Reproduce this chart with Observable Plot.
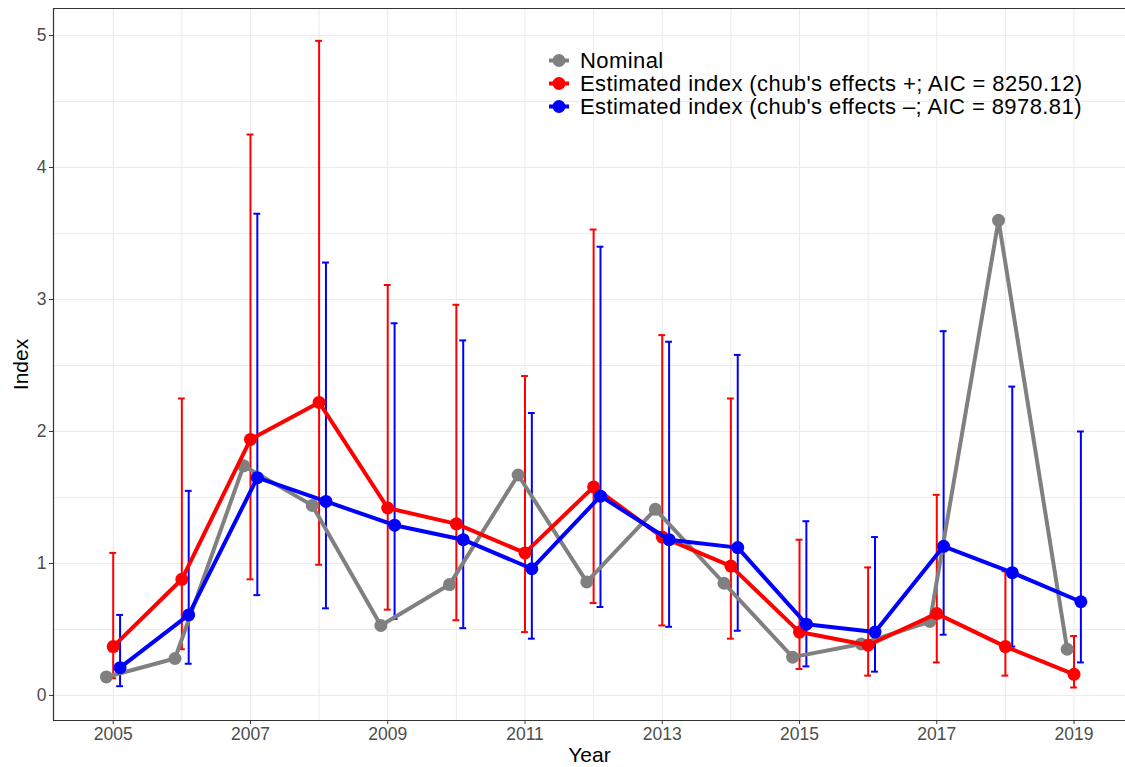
<!DOCTYPE html>
<html>
<head>
<meta charset="utf-8">
<script src="https://cdn.jsdelivr.net/npm/d3@7"></script>
<script src="https://cdn.jsdelivr.net/npm/@observablehq/plot@0.6"></script>
<style>
  html, body { margin: 0; padding: 0; background: white; }
  #wrap { position: relative; width: 1125px; height: 767px; font-family: "Liberation Sans", Arial, sans-serif; }
  #legend { position: absolute; left: 548px; top: 49px; font-size: 22px; letter-spacing: 0.42px; color: #000; }
  .row { display: flex; align-items: center; height: 23px; white-space: nowrap; }
  .row svg { margin-right: 10px; }
</style>
</head>
<body>
<div id="wrap"><div id="legend"></div></div>
<script>
const years = [2005, 2006, 2007, 2008, 2009, 2010, 2011, 2012, 2013, 2014, 2015, 2016, 2017, 2018, 2019];
const nominal    = [0.14, 0.28, 1.74, 1.44, 0.53, 0.84, 1.67, 0.86, 1.41, 0.85, 0.29, 0.39, 0.56, 3.60, 0.35];
const estPlus    = [0.37, 0.88, 1.94, 2.22, 1.42, 1.30, 1.08, 1.58, 1.20, 0.98, 0.48, 0.38, 0.62, 0.37, 0.16];
const estPlusLo  = [0.13, 0.35, 0.88, 0.99, 0.65, 0.57, 0.48, 0.70, 0.53, 0.43, 0.20, 0.15, 0.25, 0.15, 0.06];
const estPlusHi  = [1.08, 2.25, 4.25, 4.96, 3.11, 2.96, 2.42, 3.53, 2.73, 2.25, 1.18, 0.97, 1.52, 0.94, 0.45];
const estMinus   = [0.21, 0.61, 1.65, 1.47, 1.29, 1.18, 0.96, 1.51, 1.18, 1.12, 0.54, 0.48, 1.13, 0.93, 0.71];
const estMinusLo = [0.07, 0.24, 0.76, 0.66, 0.58, 0.51, 0.43, 0.67, 0.52, 0.49, 0.22, 0.18, 0.46, 0.37, 0.25];
const estMinusHi = [0.61, 1.55, 3.65, 3.28, 2.82, 2.69, 2.14, 3.40, 2.68, 2.58, 1.32, 1.20, 2.76, 2.34, 2.00];
const xTicks = [2005, 2007, 2009, 2011, 2013, 2015, 2017, 2019];
const yTicks = [0, 1, 2, 3, 4, 5];
const seriesNames = ["Nominal", "Estimated index (chub's effects +; AIC = 8250.12)", "Estimated index (chub's effects \u2013; AIC = 8978.81)"];
const seriesColors = ["#808080", "#FF0000", "#0000FF"];
const xTitle = "Year";
const yTitle = "Index";

const xDomain = [2004.13, 2019.75];
const yDomain = [-0.19, 5.205];
const dodge = [-0.1, 0, 0.1];
const capHalf = 0.05;

const series = [
  {name: seriesNames[0], color: seriesColors[0], off: dodge[0], v: nominal},
  {name: seriesNames[1], color: seriesColors[1], off: dodge[1], v: estPlus, lo: estPlusLo, hi: estPlusHi},
  {name: seriesNames[2], color: seriesColors[2], off: dodge[2], v: estMinus, lo: estMinusLo, hi: estMinusHi}
];
series.forEach(s => {
  s.data = years.map((yr, i) => ({
    x: yr + s.off, x1: yr + s.off - capHalf, x2: yr + s.off + capHalf,
    y: s.v[i], lo: s.lo ? s.lo[i] : null, hi: s.hi ? s.hi[i] : null
  }));
});

const gridX = d3.range(2005, 2020);
const gridY = d3.range(0, 5.01, 0.5);

const marks = [
  Plot.ruleX(gridX, {stroke: "#ebebeb", strokeWidth: 1}),
  Plot.ruleY(gridY, {stroke: "#ebebeb", strokeWidth: 1}),
];
series.filter(s => s.lo).forEach(s => {
  marks.push(Plot.ruleX(s.data, {x: "x", y1: "lo", y2: "hi", stroke: s.color, strokeWidth: 2}));
  marks.push(Plot.ruleY(s.data, {y: "hi", x1: "x1", x2: "x2", stroke: s.color, strokeWidth: 2}));
  marks.push(Plot.ruleY(s.data, {y: "lo", x1: "x1", x2: "x2", stroke: s.color, strokeWidth: 2}));
});
series.forEach(s => {
  marks.push(Plot.line(s.data, {x: "x", y: "y", stroke: s.color, strokeWidth: 4}));
  marks.push(Plot.dot(s.data, {x: "x", y: "y", fill: s.color, r: 6.5, stroke: "none"}));
});
// tick axes
marks.push(Plot.axisX(xTicks, {tickFormat: d => String(d), tickSize: 4, tickPadding: 3, fontSize: 17.5, fill: "#4d4d4d", stroke: "#333", label: null}));
marks.push(Plot.axisY(yTicks, {tickFormat: d => String(d), tickSize: 4, tickPadding: 3, fontSize: 17.5, fill: "#4d4d4d", stroke: "#333", label: null}));
// axis titles
marks.push(Plot.axisX([], {label: xTitle, labelAnchor: "center", labelArrow: "none", labelOffset: 41, fontSize: 21, fill: "#000"}));
marks.push(Plot.axisY([], {label: yTitle, labelAnchor: "center", labelArrow: "none", labelOffset: 40, fontSize: 21, fill: "#000"}));
// panel border (left, top, bottom)
marks.push(Plot.ruleX([xDomain[0]], {stroke: "#333", strokeWidth: 1.2}));
marks.push(Plot.ruleY([yDomain[0], yDomain[1]], {stroke: "#333", strokeWidth: 1.2}));

const chart = Plot.plot({
  width: 1125, height: 767,
  marginLeft: 53, marginRight: 0, marginTop: 8, marginBottom: 47,
  x: {domain: xDomain, label: null},
  y: {domain: yDomain, label: null},
  style: {fontFamily: "Liberation Sans, Arial, sans-serif", background: "white", overflow: "visible"},
  marks
});
document.getElementById("wrap").prepend(chart);

const legend = document.getElementById("legend");
series.forEach(s => {
  const row = document.createElement("div");
  row.className = "row";
  row.innerHTML = `<svg width="22" height="23"><line x1="1" x2="21" y1="11.5" y2="11.5" stroke="${s.color}" stroke-width="4"/><circle cx="11" cy="11.5" r="6.5" fill="${s.color}"/></svg><span>${s.name}</span>`;
  legend.appendChild(row);
});
</script>
</body>
</html>
